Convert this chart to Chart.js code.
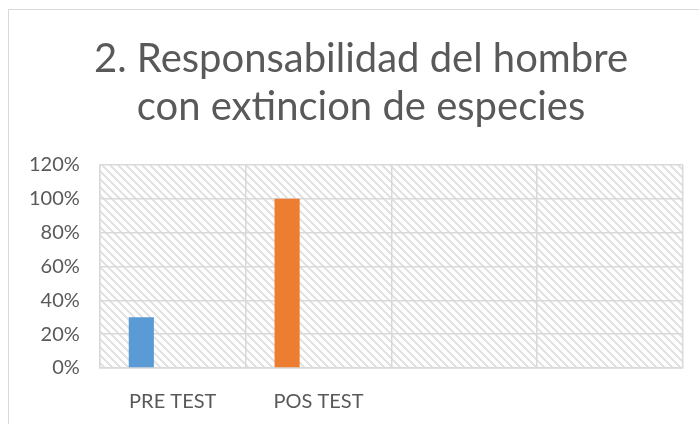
<!DOCTYPE html>
<html>
<head>
<meta charset="utf-8">
<script src="https://cdn.jsdelivr.net/npm/chart.js@4.4.1/dist/chart.umd.min.js"></script>
<style>
    html, body { margin: 0; padding: 0; background: #ffffff; overflow: hidden; }
    #wrap { position: relative; width: 699px; height: 424px; overflow: hidden; }
    #frame { position: absolute; left: 8px; top: 9px; width: 800px; height: 500px;
             border-left: 1px solid #d9d9d9; border-top: 1px solid #d9d9d9; }
    #box { position: absolute; left: 0; top: 0; width: 725px; height: 424px; }
    #chart { display: block; width: 725px; height: 424px; }
</style>
</head>
<body>
<div id="wrap">
    <div id="frame"></div>
    <div id="box"><canvas id="chart" width="725" height="424"></canvas></div>
</div>
<script>
const categories = ['PRE TEST', 'POS TEST', '', ''];
const resultValues = [0.30, 1.00, null, null];
const emptySeries = [null, null, null, null];
const barColors = ['#5B9BD5', '#ED7D31', '#A5A5A5', '#FFC000'];
const titleLines = ['2. Responsabilidad del hombre', 'con extincion de especies'];

const chartCanvas = document.getElementById('chart');
const textColor = '#595959';
const gridColor = '#d9d9d9';
const fontFamily = "Lato, 'Open Sans', sans-serif";

// Excel-ish "wide downward diagonal" fill for the plot area
function makeHatch() {
    const c = document.createElement('canvas');
    c.width = 8;
    c.height = 8;
    const ctx = c.getContext('2d');
    ctx.fillStyle = '#ffffff';
    ctx.fillRect(0, 0, 8, 8);
    ctx.fillStyle = '#e3e3e3';
    for(let y = 0; y < 8; y++) {
        for(let x = 0; x < 8; x++) {
            const d = ((x - y) % 8 + 8) % 8;
            if(d < 3) ctx.fillRect(x, y, 1, 1);
        }
    }
    return ctx.createPattern(c, 'repeat');
}

const hatchPlugin = {
    id: 'hatch',
    afterLayout(chart) {
        // excel centres the title a bit more to the right than the padded box
        if(chart.titleBlock) chart.titleBlock.left = 39;
    },
    beforeDraw(chart) {
        const a = chart.chartArea;
        const ctx = chart.ctx;
        ctx.save();
        ctx.fillStyle = makeHatch();
        ctx.fillRect(a.left, a.top, a.right - a.left, a.bottom - a.top);
        ctx.restore();
    }
};

const chart = new Chart(chartCanvas, {
    type: 'bar',
    data: {
        labels: categories,
        datasets: [
            {
                label: 'Resultado',
                data: resultValues,
                backgroundColor: barColors,
                categoryPercentage: 0.862,
                barPercentage: 0.4
            },
            {
                label: 'Serie 2',
                data: emptySeries,
                backgroundColor: '#A5A5A5',
                categoryPercentage: 0.862,
                barPercentage: 0.4
            }
        ]
    },
    options: {
        responsive: false,
        maintainAspectRatio: false,
        animation: false,
        devicePixelRatio: 1,
        layout: {
            padding: {left: 9, right: 42, top: 35, bottom: 8}
        },
        plugins: {
            legend: {display: false},
            tooltip: {enabled: false},
            title: {
                display: true,
                text: titleLines,
                color: textColor,
                font: {family: fontFamily, size: 40, weight: 'normal', lineHeight: 1.2},
                padding: {top: 0, bottom: 34}
            }
        },
        scales: {
            x: {
                grid: {color: gridColor, lineWidth: 1.5, offset: true, drawTicks: false},
                border: {color: gridColor, width: 1.5},
                ticks: {color: textColor, font: {family: fontFamily, size: 20}, padding: 22},
                afterFit: (scale) => { scale.height = 48; }
            },
            y: {
                min: 0,
                max: 1.2,
                grid: {color: gridColor, lineWidth: 1.5, drawTicks: false},
                border: {color: gridColor, width: 1.5},
                ticks: {
                    stepSize: 0.2,
                    color: textColor,
                    font: {family: fontFamily, size: 20},
                    padding: 20,
                    callback: (v) => Math.round(v * 100) + '%'
                }
            }
        }
    },
    plugins: [hatchPlugin]
});
</script>
</body>
</html>
